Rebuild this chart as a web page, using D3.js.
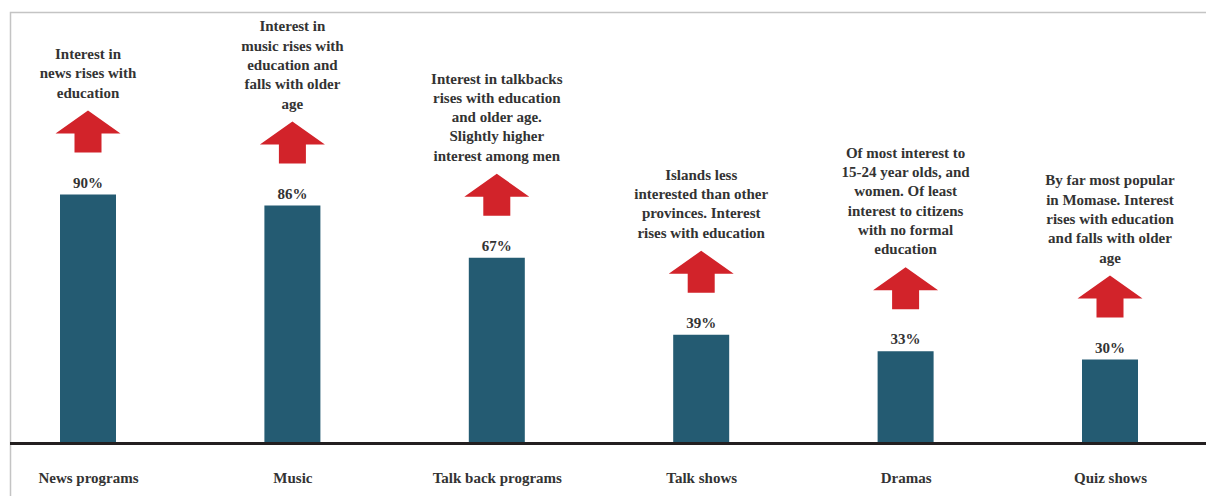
<!DOCTYPE html>
<html>
<head>
<meta charset="utf-8">
<script src="https://cdn.jsdelivr.net/npm/d3@7"></script>
<style>
  html, body { margin: 0; padding: 0; background: #fff; }
  svg { display: block; }
  text { font-family: "Liberation Serif", "DejaVu Serif", serif; fill: #333; }
</style>
</head>
<body>
<svg id="chart" width="1206" height="496"></svg>
<script>
// Share of listeners interested in each programme type (%)
const categories = ["News programs", "Music", "Talk back programs", "Talk shows", "Dramas", "Quiz shows"];
const interest = [90, 86, 67, 39, 33, 30];

// Notes printed above each bar, one entry per line
const notes = [
  ["Interest in", "news rises with", "education"],
  ["Interest in", "music rises with", "education and", "falls with older", "age"],
  ["Interest in talkbacks", "rises with education", "and older age.", "Slightly higher", "interest among men"],
  ["Islands less", "interested than other", "provinces. Interest", "rises with education"],
  ["Of most interest to", "15-24 year olds, and", "women. Of least", "interest to citizens", "with no formal", "education"],
  ["By far most popular", "in Momase. Interest", "rises with education", "and falls with older", "age"]
];

const W = 1206, H = 496;
const baseY = 442;
const barW = 56;
const fontSize = "15px";

const svg = d3.select("#chart");

const x = d3.scalePoint().domain(categories).range([88, 1110]);
const y = d3.scaleLinear().domain([0, 100]).range([baseY, 167]);

// Light frame along the top and left edge
svg.append("path")
  .attr("d", `M10.5,${H} V12.5 H${W}`)
  .attr("fill", "none")
  .attr("stroke", "#c4c4c4")
  .attr("stroke-width", 1.5);

const data = categories.map((c, i) => ({ cat: c, v: interest[i], note: notes[i] }));

// Bars
svg.append("g").selectAll("rect")
  .data(data).join("rect")
  .attr("x", d => x(d.cat) - barW / 2)
  .attr("y", d => y(d.v))
  .attr("width", barW)
  .attr("height", d => baseY - y(d.v))
  .attr("fill", "#245b72");

// Value labels
svg.append("g").selectAll("text")
  .data(data).join("text")
  .attr("x", d => x(d.cat))
  .attr("y", d => y(d.v) - 7)
  .attr("text-anchor", "middle")
  .style("font-size", fontSize)
  .style("font-weight", "700")
  .text(d => d3.format(".0f")(d.v) + "%");

// Upward arrows
const arrowGap = 42, headW = 65, headH = 23, shaftW = 27, arrowH = 42;
const arrowPath = (cx, bottom) => {
  const tip = bottom - arrowH, hb = tip + headH;
  return `M${cx},${tip} L${cx + headW / 2},${hb} L${cx + shaftW / 2},${hb} L${cx + shaftW / 2},${bottom}` +
         ` L${cx - shaftW / 2},${bottom} L${cx - shaftW / 2},${hb} L${cx - headW / 2},${hb} Z`;
};
svg.append("g").selectAll("path")
  .data(data).join("path")
  .attr("d", d => arrowPath(x(d.cat), y(d.v) - arrowGap))
  .attr("fill", "#d2232a");

// Notes, stacked upward from just above each arrow
const lineH = 19.3;
const noteG = svg.append("g").selectAll("text")
  .data(data).join("text")
  .attr("text-anchor", "middle")
  .style("font-size", fontSize)
  .style("font-weight", "700");
noteG.each(function (d) {
  const lastBase = y(d.v) - arrowGap - arrowH - 13;
  const n = d.note.length;
  d3.select(this).selectAll("tspan")
    .data(d.note).join("tspan")
    .attr("x", x(d.cat))
    .attr("y", (t, j) => lastBase - (n - 1 - j) * lineH)
    .text(t => t);
});

// Baseline
svg.append("line")
  .attr("x1", 10).attr("x2", W)
  .attr("y1", baseY + 1.5).attr("y2", baseY + 1.5)
  .attr("stroke", "#231f20")
  .attr("stroke-width", 3);

// Category labels
const xAxis = d3.axisBottom(x).tickSize(0).tickPadding(30);
svg.append("g")
  .attr("transform", `translate(0,${baseY})`)
  .call(xAxis)
  .call(g => g.select(".domain").remove())
  .call(g => g.selectAll("text")
    .style("font-family", '"Liberation Serif", serif')
    .style("font-size", fontSize)
    .style("font-weight", "700")
    .attr("fill", "#333"));
</script>
</body>
</html>
